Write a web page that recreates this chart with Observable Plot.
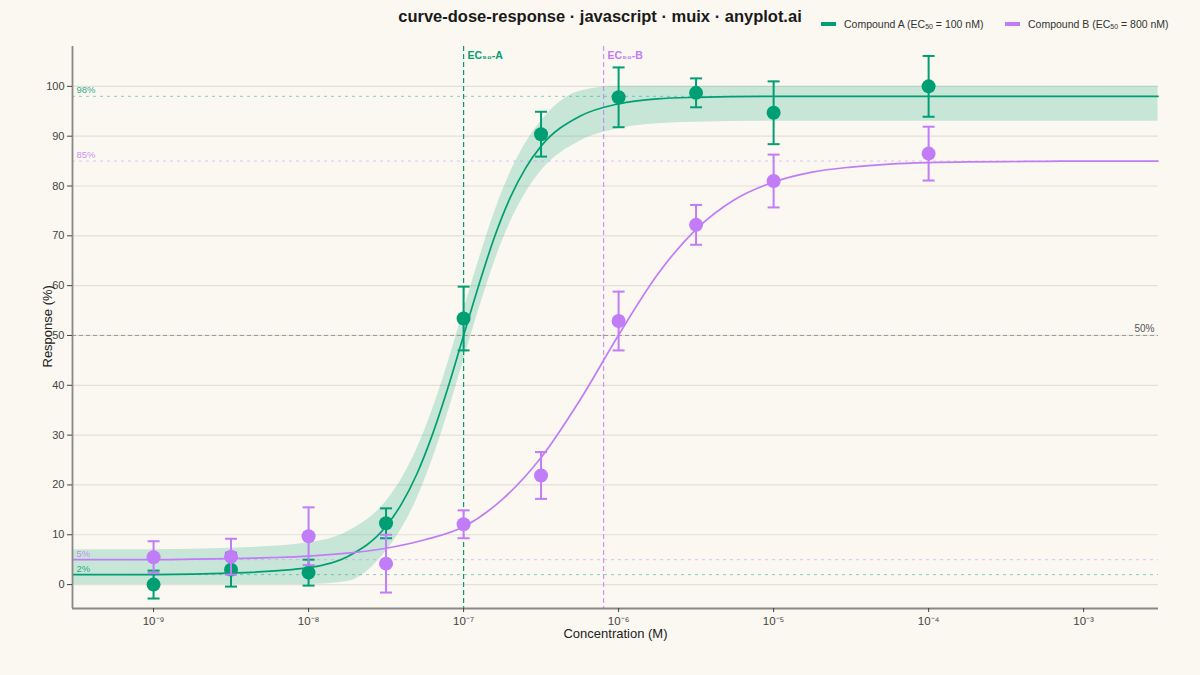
<!DOCTYPE html>
<html>
<head>
<meta charset="utf-8">
<script src="https://cdn.jsdelivr.net/npm/d3@7"></script>
<script src="https://cdn.jsdelivr.net/npm/@observablehq/plot@0.6"></script>
<style>
  html, body { margin: 0; padding: 0; background: #FAF8F1; }
  body { width: 1200px; height: 675px; overflow: hidden; font-family: "Liberation Sans", Arial, sans-serif; }
  #header { position: relative; height: 40px; }
  #title { position: absolute; left: 0; width: 1200px; top: 7px; text-align: center; font-weight: bold; font-size: 16.5px; color: #1a1a1a; }
  .leg { position: absolute; top: 18px; font-size: 10.5px; color: #333; white-space: nowrap; }
  .sw { display: inline-block; width: 15px; height: 3.5px; vertical-align: middle; margin-right: 8px; position: relative; top: -1px; }
  sub { font-size: 7px; vertical-align: -1px; }
</style>
</head>
<body>
<div id="header">
  <div id="title">curve-dose-response · javascript · muix · anyplot.ai</div>
  <div class="leg" style="left:821px"><span class="sw" style="background:#009E73"></span>Compound A (EC<sub>50</sub> = 100 nM)</div>
  <div class="leg" style="left:1005px"><span class="sw" style="background:#C17CF7"></span>Compound B (EC<sub>50</sub> = 800 nM)</div>
</div>
<div id="chart"></div>
<script>
// ---- data ----
const concentrations = [1e-9, 3.16e-9, 1e-8, 3.16e-8, 1e-7, 3.16e-7, 1e-6, 3.16e-6, 1e-5, 1e-4];
const responseA = [0.0, 3.0, 2.4, 12.3, 53.4, 90.4, 97.8, 98.7, 94.7, 100.0];
const errorA    = [2.8, 3.4, 2.6, 3.0, 6.4, 4.5, 6.0, 2.9, 6.3, 6.1];
const responseB = [5.5, 5.6, 9.7, 4.2, 12.1, 21.9, 52.9, 72.2, 81.0, 86.5];
const errorB    = [3.2, 3.6, 5.8, 5.8, 2.8, 4.7, 5.9, 4.0, 5.3, 5.4];

// fitted curve A with confidence band (log10 concentration)
const curveALog = [-9.52, -9, -8.5, -8, -7.75, -7.5, -7.4, -7.3, -7.2, -7.1, -7, -6.9, -6.8, -6.7, -6.6, -6.5, -6.25, -6, -5.75, -5.5, -5, -4.5, -4, -3.5, -3, -2.52];
const curveA    = [2.0, 2.0, 2.3, 3.4, 5.6, 11.7, 16.2, 22.3, 30.2, 39.6, 50.0, 60.3, 69.8, 77.6, 83.6, 88.0, 94.0, 96.5, 97.5, 97.8, 98.0, 98.0, 98.0, 98.0, 98.0, 98.0];
const bandAHigh = [7.0, 7.0, 7.3, 8.4, 10.6, 16.7, 21.2, 27.3, 35.2, 44.6, 55.0, 65.3, 74.8, 82.6, 88.6, 93.0, 99.0, 100, 100, 100, 100, 100, 100, 100, 100, 100];
const bandALow  = [0, 0, 0, 0, 0.6, 6.7, 11.2, 17.3, 25.2, 34.6, 45.0, 55.3, 64.8, 72.6, 78.6, 83.0, 89.0, 91.5, 92.5, 92.8, 93.0, 93.0, 93.0, 93.0, 93.0, 93.0];

// fitted curve B
const curveBLog = [-9.52, -9.25, -9, -8.75, -8.5, -8.25, -8, -7.75, -7.5, -7.25, -7, -6.75, -6.5, -6.25, -6, -5.75, -5.5, -5.25, -5, -4.75, -4.5, -4.25, -4, -3.75, -3.5, -3.25, -3, -2.75, -2.52];
const curveB    = [5.0, 5.0, 5.0, 5.1, 5.2, 5.4, 5.7, 6.3, 7.3, 9.0, 11.6, 17.1, 25.5, 37.0, 50.1, 62.2, 71.3, 77.3, 80.8, 82.8, 83.8, 84.4, 84.7, 84.85, 84.9, 84.95, 85.0, 85.0, 85.0];

// reference levels
const ec50Values = [1e-7, 8e-7];
const ec50Labels = ["EC₅₀-A", "EC₅₀-B"];
const plateauValues = [98, 2, 85, 5];
const plateauLabels = ["98%", "2%", "85%", "5%"];
const plateauSeries = ["A", "A", "B", "B"];
const halfLevel = 50;

// axes
const xDomainLog = [-9.523, -2.517];
const xTicks = [1e-9, 1e-8, 1e-7, 1e-6, 1e-5, 1e-4, 1e-3];
const xTickLabels = ["10⁻⁹", "10⁻⁸", "10⁻⁷", "10⁻⁶", "10⁻⁵", "10⁻⁴", "10⁻³"];
const yTicks = [0, 10, 20, 30, 40, 50, 60, 70, 80, 90, 100];
const yDomain = [-4.8, 108];

// ---- tables ----
const colA = "#009E73", colB = "#C17CF7";
const obsA = concentrations.map((c, i) => ({c, y: responseA[i], lo: responseA[i] - errorA[i], hi: responseA[i] + errorA[i]}));
const obsB = concentrations.map((c, i) => ({c, y: responseB[i], lo: responseB[i] - errorB[i], hi: responseB[i] + errorB[i]}));
const lineA = curveALog.map((l, i) => ({c: 10 ** l, y: curveA[i], lo: bandALow[i], hi: bandAHigh[i]}));
const lineB = curveBLog.map((l, i) => ({c: 10 ** l, y: curveB[i]}));
const plateaus = plateauValues.map((v, i) => ({v, label: plateauLabels[i], s: plateauSeries[i]}));
const ecs = ec50Values.map((v, i) => ({v, label: ec50Labels[i], s: i === 0 ? "A" : "B"}));
const xDomain = xDomainLog.map(l => 10 ** l);
const xTickFormat = d => {
  const k = xTicks.findIndex(t => Math.abs(Math.log10(t) - Math.log10(d)) < 1e-6);
  return k >= 0 ? xTickLabels[k] : "";
};

const capSymbol = { draw(ctx) { ctx.moveTo(-6, 0); ctx.lineTo(6, 0); } };

function errorMarks(obs, color) {
  return [
    Plot.ruleX(obs, {x: "c", y1: "lo", y2: "hi", stroke: color, strokeWidth: 2}),
    Plot.dot(obs, {x: "c", y: "lo", symbol: capSymbol, stroke: color, strokeWidth: 2, r: 3}),
    Plot.dot(obs, {x: "c", y: "hi", symbol: capSymbol, stroke: color, strokeWidth: 2, r: 3}),
  ];
}

const chart = Plot.plot({
  width: 1200,
  height: 635,
  marginTop: 6,
  marginLeft: 72,
  marginRight: 42,
  marginBottom: 67,
  style: {background: "#FAF8F1", fontSize: "11px", fontFamily: "'Liberation Sans', Arial, sans-serif", color: "#444", overflow: "visible"},
  x: {type: "log", domain: xDomain},
  y: {domain: yDomain},
  marks: [
    Plot.ruleY(yTicks, {stroke: "#E4E0D8", strokeWidth: 1.2}),
    Plot.areaY(lineA, {x: "c", y1: "lo", y2: "hi", fill: colA, fillOpacity: 0.2, curve: "monotone-x"}),
    Plot.ruleY(plateaus, {y: "v", stroke: d => d.s === "A" ? colA : colB, strokeOpacity: 0.45, strokeWidth: 1, strokeDasharray: "3,4"}),
    Plot.text(plateaus, {y: "v", text: "label", frameAnchor: "left", textAnchor: "start", dx: 4, dy: -6, fill: d => d.s === "A" ? colA : colB, fillOpacity: 0.85, fontSize: 9.5}),
    Plot.ruleY([halfLevel], {stroke: "#999", strokeWidth: 1, strokeDasharray: "4,3"}),
    Plot.text([halfLevel], {y: d => d, text: d => `${d}%`, frameAnchor: "right", textAnchor: "end", dx: -4, dy: -7, fill: "#555", fontSize: 10}),
    Plot.ruleX(ecs, {x: "v", stroke: d => d.s === "A" ? colA : colB, strokeOpacity: d => d.s === "A" ? 1 : 0.8, strokeWidth: 1.2, strokeDasharray: "5,3"}),
    Plot.text(ecs, {x: "v", text: "label", frameAnchor: "top", textAnchor: "start", dx: 4, dy: 5, fill: d => d.s === "A" ? colA : colB, fontWeight: "bold", fontSize: 10.5}),
    Plot.line(lineA, {x: "c", y: "y", stroke: colA, strokeWidth: 1.7, curve: "monotone-x"}),
    Plot.line(lineB, {x: "c", y: "y", stroke: colB, strokeWidth: 1.7, curve: "monotone-x"}),
    ...errorMarks(obsA, colA),
    Plot.dot(obsA, {x: "c", y: "y", r: 7, fill: colA}),
    ...errorMarks(obsB, colB),
    Plot.dot(obsB, {x: "c", y: "y", r: 7, fill: colB}),
    Plot.ruleX([xDomain[0]], {stroke: "#888", strokeWidth: 1.8}),
    Plot.ruleY([yDomain[0]], {stroke: "#888", strokeWidth: 1.8}),
    Plot.axisY({ticks: yTicks, tickSize: 5, tickPadding: 3, label: null, fontSize: 11}),
    Plot.axisX({ticks: xTicks, tickFormat: xTickFormat, tickSize: 4, tickPadding: 4, label: null, fontSize: 11.5}),
    Plot.text(["Response (%)"], {text: d => d, frameAnchor: "left", rotate: -90, dx: -25, dy: 40, fill: "#222", fontSize: 13}),
    Plot.text(["Concentration (M)"], {text: d => d, frameAnchor: "bottom", dy: 29, fill: "#222", fontSize: 13}),
  ]
});
document.getElementById("chart").appendChild(chart);
</script>
</body>
</html>
